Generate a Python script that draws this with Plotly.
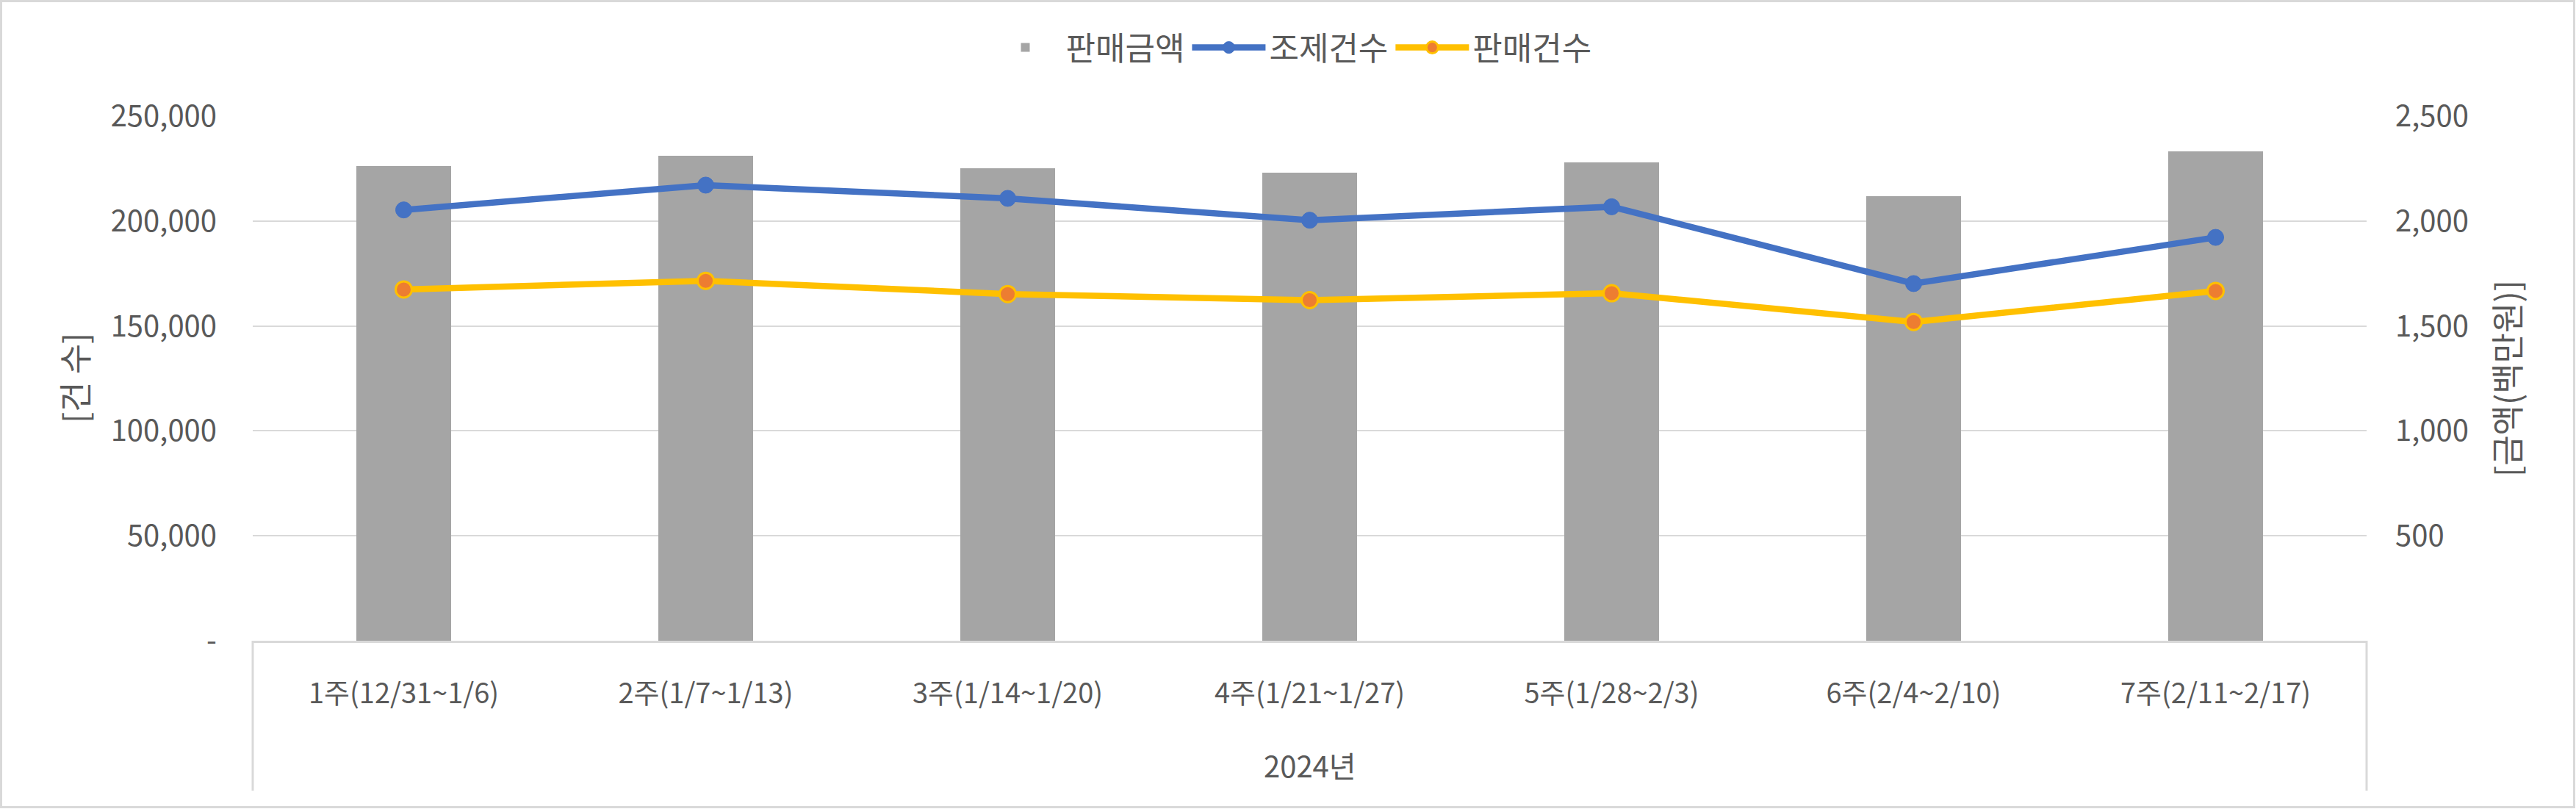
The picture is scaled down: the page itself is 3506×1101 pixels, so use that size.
import plotly.graph_objects as go

# ---- data ----
categories = ["1주(12/31~1/6)", "2주(1/7~1/13)", "3주(1/14~1/20)", "4주(1/21~1/27)",
              "5주(1/28~2/3)", "6주(2/4~2/10)", "7주(2/11~2/17)"]
group_label = "2024년"
sales_amount = [2263, 2311, 2252, 2231, 2280, 2119, 2332]          # 판매금액 (백만원)
dispense_count = [205300, 217100, 210800, 200400, 206800, 170200, 192200]  # 조제건수
sales_count = [167400, 171500, 165200, 162300, 165600, 151900, 166700]     # 판매건수

left_ticks = [0, 50000, 100000, 150000, 200000, 250000]
left_ticktext = ["-", "50,000", "100,000", "150,000", "200,000", "250,000"]
right_ticks = [500, 1000, 1500, 2000, 2500]
right_ticktext = ["500", "1,000", "1,500", "2,000", "2,500"]
left_title = "[건 수]"
right_title = "[금액(백만원)]"

# ---- style ----
W, H = 3506, 1101
L, R, T, B = 344, 285, 158, 229
PW, PH = W - L - R, H - T - B
FONT = "Noto Sans CJK KR"
TXT = "#595959"
GRID = "#D9D9D9"

fig = go.Figure()
fig.add_trace(go.Bar(
    x=categories, y=sales_amount, name="판매금액",
    marker=dict(color="#A5A5A5", line=dict(width=0)),
    width=0.314, yaxis="y",
))
fig.add_trace(go.Scatter(
    x=categories, y=dispense_count, name="조제건수", mode="lines+markers",
    line=dict(color="#4472C4", width=8.5),
    marker=dict(color="#4472C4", size=22, line=dict(color="#4472C4", width=1)),
    yaxis="y2",
))
fig.add_trace(go.Scatter(
    x=categories, y=sales_count, name="판매건수", mode="lines+markers",
    line=dict(color="#FFC000", width=8.5),
    marker=dict(color="#ED7D31", size=22, line=dict(color="#FFC000", width=3)),
    yaxis="y2",
))

fig.update_layout(
    width=W, height=H,
    margin=dict(l=L, r=R, t=T, b=B, autoexpand=False),
    paper_bgcolor="white", plot_bgcolor="white",
    font=dict(family=FONT, color=TXT, size=38),
    showlegend=True,
    legend=dict(orientation="h", x=(1756 - L) / PW, xanchor="center",
                y=1 + (T - 65) / PH, yanchor="middle",
                font=dict(size=44, color=TXT), itemwidth=100,
                bgcolor="rgba(0,0,0,0)"),
    xaxis=dict(type="category", showgrid=False, showline=True, linecolor=GRID,
               linewidth=3, ticks="", tickfont=dict(size=38, color=TXT),
               ticklabelstandoff=36, range=[-0.5, len(categories) - 0.5]),
    yaxis=dict(side="right", range=[0, 2500], tickvals=right_ticks, ticktext=right_ticktext,
               showgrid=True, gridcolor=GRID, gridwidth=2, zeroline=False,
               showline=False, ticks="", tickfont=dict(size=40, color=TXT),
               ticklabelstandoff=38),
    yaxis2=dict(side="left", overlaying="y", range=[0, 250000], tickvals=left_ticks,
                ticktext=left_ticktext, showgrid=False, zeroline=False, showline=False,
                ticks="", tickfont=dict(size=40, color=TXT), ticklabelstandoff=48),
    bargap=0.0,
)

# axis titles
fig.add_annotation(text=left_title, xref="paper", yref="paper", x=(100 - L) / PW, y=0.5,
                   xanchor="center", yanchor="middle", textangle=-90, showarrow=False,
                   font=dict(size=45, color=TXT))
fig.add_annotation(text=right_title, xref="paper", yref="paper", x=(3410 - L) / PW, y=0.5,
                   xanchor="center", yanchor="middle", textangle=-90, showarrow=False,
                   font=dict(size=45, color=TXT))

# group label below category labels
fig.add_annotation(text=group_label, xref="paper", yref="paper", x=0.5,
                   y=-(1041 - (T + PH)) / PH, xanchor="center", yanchor="middle",
                   showarrow=False, font=dict(size=40, color=TXT))

# category-box side lines
box_bottom = -(1076 - (T + PH)) / PH
for xp in (0, 1):
    fig.add_shape(type="line", xref="paper", yref="paper", x0=xp, x1=xp, y0=0, y1=box_bottom,
                  line=dict(color=GRID, width=3), layer="below")

# chart outer border
fig.add_shape(type="rect", xref="paper", yref="paper",
              x0=-(L - 1.5) / PW, x1=1 + (R - 2.5) / PW,
              y0=-(B - 2.5) / PH, y1=1 + (T - 1.5) / PH,
              line=dict(color=GRID, width=3), fillcolor="rgba(0,0,0,0)", layer="below")

fig.write_html("out.html", config={"displayModeBar": False},
               post_script="document.body.style.margin='0';document.body.style.overflow='hidden';")
